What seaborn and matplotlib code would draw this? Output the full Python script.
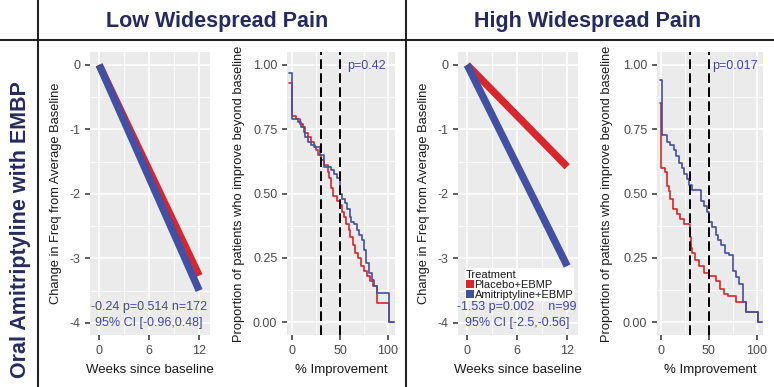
import numpy as np
import pandas as pd
import matplotlib
matplotlib.use("Agg")
import matplotlib.pyplot as plt
from matplotlib.lines import Line2D
from matplotlib.patches import Patch
from matplotlib.ticker import MultipleLocator
import seaborn as sns

sns.set_theme(style="darkgrid", rc={"axes.facecolor": "#EBEBEB", "grid.color": "white"})
plt.rcParams["font.family"] = ["Liberation Sans", "DejaVu Sans"]

# treatments and colours
treatments = ["Placebo+EBMP", "Amitriptyline+EBMP"]
palette = {"Placebo+EBMP": "#D8262C", "Amitriptyline+EBMP": "#4150A4"}

# change in frequency lines (weeks 0 -> 12)
weeks = [0, 12]
low_placebo_change = [0, -3.27]
low_amitrip_change = [0, -3.50]
high_placebo_change = [0, -1.58]
high_amitrip_change = [0, -3.12]

low_note = ["-0.24 p=0.514 n=172", "95% CI [-0.96,0.48]"]
high_note = ["-1.53 p=0.002    n=99", "95% CI [-2.5,-0.56]"]

# proportion improving beyond x% (step curves)
low_placebo_pct = [-3, 0, 4, 8, 11, 14, 17, 20, 23, 25, 27, 30, 33, 37, 39, 41, 43, 47, 50, 52,
                   54, 56, 59, 61, 64, 66, 69, 72, 75, 78, 81, 85, 88.6, 100.9, 106]
low_placebo_prop = [0.93, 0.80, 0.79, 0.77, 0.76, 0.735, 0.72, 0.70, 0.68, 0.67, 0.65, 0.63, 0.61,
                    0.585, 0.56, 0.52, 0.49, 0.47, 0.455, 0.43, 0.41, 0.38, 0.36, 0.33, 0.30, 0.27,
                    0.25, 0.22, 0.20, 0.18, 0.16, 0.14, 0.073, 0.0, 0.0]
low_amitrip_pct = [-3, 0, 6, 9, 12, 14, 17, 20, 24, 29, 33.5, 41, 44, 47, 50, 52, 55, 57, 60, 62,
                   65, 68, 70, 73, 75, 77, 80, 83, 86, 88.6, 100.9, 106]
low_amitrip_prop = [0.968, 0.79, 0.777, 0.757, 0.74, 0.72, 0.70, 0.69, 0.68, 0.65, 0.604, 0.59,
                    0.575, 0.56, 0.50, 0.48, 0.465, 0.44, 0.41, 0.39, 0.38, 0.36, 0.34, 0.32, 0.28,
                    0.23, 0.19, 0.165, 0.14, 0.112, 0.0, 0.0]
high_placebo_pct = [-1, 0, 4, 6, 8, 10, 13, 17, 20, 24, 30, 31, 33, 36, 40, 45, 50, 57, 62, 66,
                    70, 78, 88.6, 101, 105]
high_placebo_prop = [0.85, 0.60, 0.585, 0.53, 0.51, 0.48, 0.44, 0.42, 0.40, 0.38, 0.33, 0.29, 0.27,
                     0.24, 0.22, 0.19, 0.18, 0.16, 0.13, 0.11, 0.10, 0.08, 0.04, 0.0, 0.0]
high_amitrip_pct = [-1, 1, 6, 10, 14, 16, 19, 22, 24, 27, 29, 33, 42, 45, 48, 50, 53, 57, 60, 63,
                    67, 71, 75, 78, 82, 86, 88.6, 101, 105]
high_amitrip_prop = [0.942, 0.728, 0.70, 0.69, 0.67, 0.645, 0.62, 0.60, 0.575, 0.555, 0.534, 0.515,
                     0.47, 0.45, 0.43, 0.39, 0.37, 0.34, 0.32, 0.30, 0.27, 0.26, 0.20, 0.175, 0.15,
                     0.08, 0.04, 0.0, 0.0]

low_p = "p=0.42"
high_p = "p=0.017"
thresholds = [30, 50]

W, H = 774, 387
fig = plt.figure(figsize=(W / 100, H / 100), dpi=100)


def px_axes(left, right, top, bottom):
    return fig.add_axes([left / W, 1 - bottom / H, (right - left) / W, (bottom - top) / H])


def style(ax, ylab, xlab, ylab_x):
    for s in ax.spines.values():
        s.set_visible(False)
    ax.grid(which="major", color="white", lw=1.2)
    ax.grid(which="minor", color="white", lw=0.55)
    ax.tick_params(which="major", length=3.5, width=1.1, color="#333333", pad=3.5,
                   labelsize=9, labelcolor="#4D4D4D", bottom=True, left=True)
    ax.tick_params(which="minor", length=0)
    ax.set_xlabel(xlab, fontsize=9.5, color="#1A1A1A")
    ax.set_ylabel(ylab, fontsize=9.3, color="#1A1A1A")
    ax.yaxis.label.set_va("center")
    ax.xaxis.label.set_va("center")
    ax.yaxis.set_label_coords(ylab_x, 0.5)
    ax.xaxis.set_label_coords(0.5, -0.124)


def line_panel(ax, placebo, amitrip, note):
    df = pd.DataFrame({"week": weeks * 2,
                       "change": placebo + amitrip,
                       "Treatment": [treatments[0]] * 2 + [treatments[1]] * 2})
    sns.lineplot(data=df, x="week", y="change", hue="Treatment", palette=palette,
                 hue_order=treatments, estimator=None, sort=False, lw=5.3,
                 solid_capstyle="butt", legend=False, ax=ax)
    ax.set_xlim(-1.1, 13.3)
    ax.set_ylim(-4.19, 0.2)
    ax.set_xticks([0, 6, 12])
    ax.xaxis.set_minor_locator(MultipleLocator(3))
    ax.set_yticks([-4, -3, -2, -1, 0])
    ax.set_yticklabels(["-4", "-3", "-2", "-1", "0"])
    ax.yaxis.set_minor_locator(MultipleLocator(0.5))
    ax.text(6, -3.75, note[0], ha="center", va="center", fontsize=9, color="#3F48A6")
    ax.text(6, -4.0, note[1], ha="center", va="center", fontsize=9, color="#3F48A6")
    style(ax, "Change in Freq from Average Baseline", "Weeks since baseline", -0.28)


def km_panel(ax, pl_x, pl_y, am_x, am_y, ptxt, xlim, ylab_x):
    df = pd.DataFrame({"pct": pl_x + am_x, "prop": pl_y + am_y,
                       "Treatment": [treatments[0]] * len(pl_x) + [treatments[1]] * len(am_x)})
    sns.lineplot(data=df, x="pct", y="prop", hue="Treatment", palette=palette,
                 hue_order=treatments, estimator=None, sort=False, lw=1.2,
                 drawstyle="steps-post", legend=False, ax=ax)
    for t in thresholds:
        ax.axvline(t, color="black", lw=1.4, ls=(0, (5, 2.2)), zorder=3)
    ax.set_xlim(*xlim)
    ax.set_ylim(-0.05, 1.05)
    ax.set_xticks([0, 50, 100])
    ax.xaxis.set_minor_locator(MultipleLocator(25))
    ax.set_yticks([0, 0.25, 0.5, 0.75, 1.0])
    ax.set_yticklabels(["0.00", "0.25", "0.50", "0.75", "1.00"])
    ax.yaxis.set_minor_locator(MultipleLocator(0.125))
    ax.text(thresholds[1] + (7 if ptxt == low_p else 3.5), 0.995, ptxt, ha="left", va="center",
            fontsize=9, color="#3F48A6")
    style(ax, "Proportion of patients who improve beyond baseline", "% Improvement", ylab_x)


ax1 = px_axes(90, 210, 52, 335)
line_panel(ax1, low_placebo_change, low_amitrip_change, low_note)

ax2 = px_axes(287, 395.5, 52, 335)
km_panel(ax2, low_placebo_pct, low_placebo_prop, low_amitrip_pct, low_amitrip_prop,
         low_p, (-5.3, 108), -0.442)

ax3 = px_axes(458, 578, 52, 335)
line_panel(ax3, high_placebo_change, high_amitrip_change, high_note)
handles = [Patch(facecolor=palette[t], edgecolor="none") for t in treatments]
leg = ax3.legend(handles, treatments, title="Treatment", loc="upper left",
                 bbox_to_anchor=(0.055, 0.235), frameon=True, facecolor="white",
                 edgecolor="none", framealpha=1, fontsize=8, title_fontsize=8,
                 handlelength=0.75, handleheight=0.7, handletextpad=0.05,
                 labelspacing=0.0, borderpad=0.1, borderaxespad=0, alignment="left")
leg.get_frame().set_boxstyle("square", pad=0)
for txt in leg.get_texts() + [leg.get_title()]:
    txt.set_color("#1A1A1A")

ax4 = px_axes(657, 763, 52, 335)
km_panel(ax4, high_placebo_pct, high_placebo_prop, high_amitrip_pct, high_amitrip_prop,
         high_p, (-4, 106.5), -0.47)

# panel headers and separators
navy = "#252B5F"
fig.text(217 / W, 1 - 22 / H, "Low Widespread Pain", ha="center", va="center",
         fontsize=15.5, fontweight="bold", color=navy)
fig.text(588 / W, 1 - 22 / H, "High Widespread Pain", ha="center", va="center",
         fontsize=15.5, fontweight="bold", color=navy)
fig.text(21 / W, 1 - 230 / H, "Oral Amitriptyline with EMBP", ha="center", va="center",
         rotation=90, fontsize=15.5, fontweight="bold", color=navy)
for x0, y0, x1, y1 in [(38, 0, 38, 387), (0, 40, 774, 40), (406, 0, 406, 387)]:
    fig.add_artist(Line2D([x0 / W, x1 / W], [1 - y0 / H, 1 - y1 / H],
                          transform=fig.transFigure, color="#222222", lw=1.5))

fig.savefig("out.png", dpi=100)
